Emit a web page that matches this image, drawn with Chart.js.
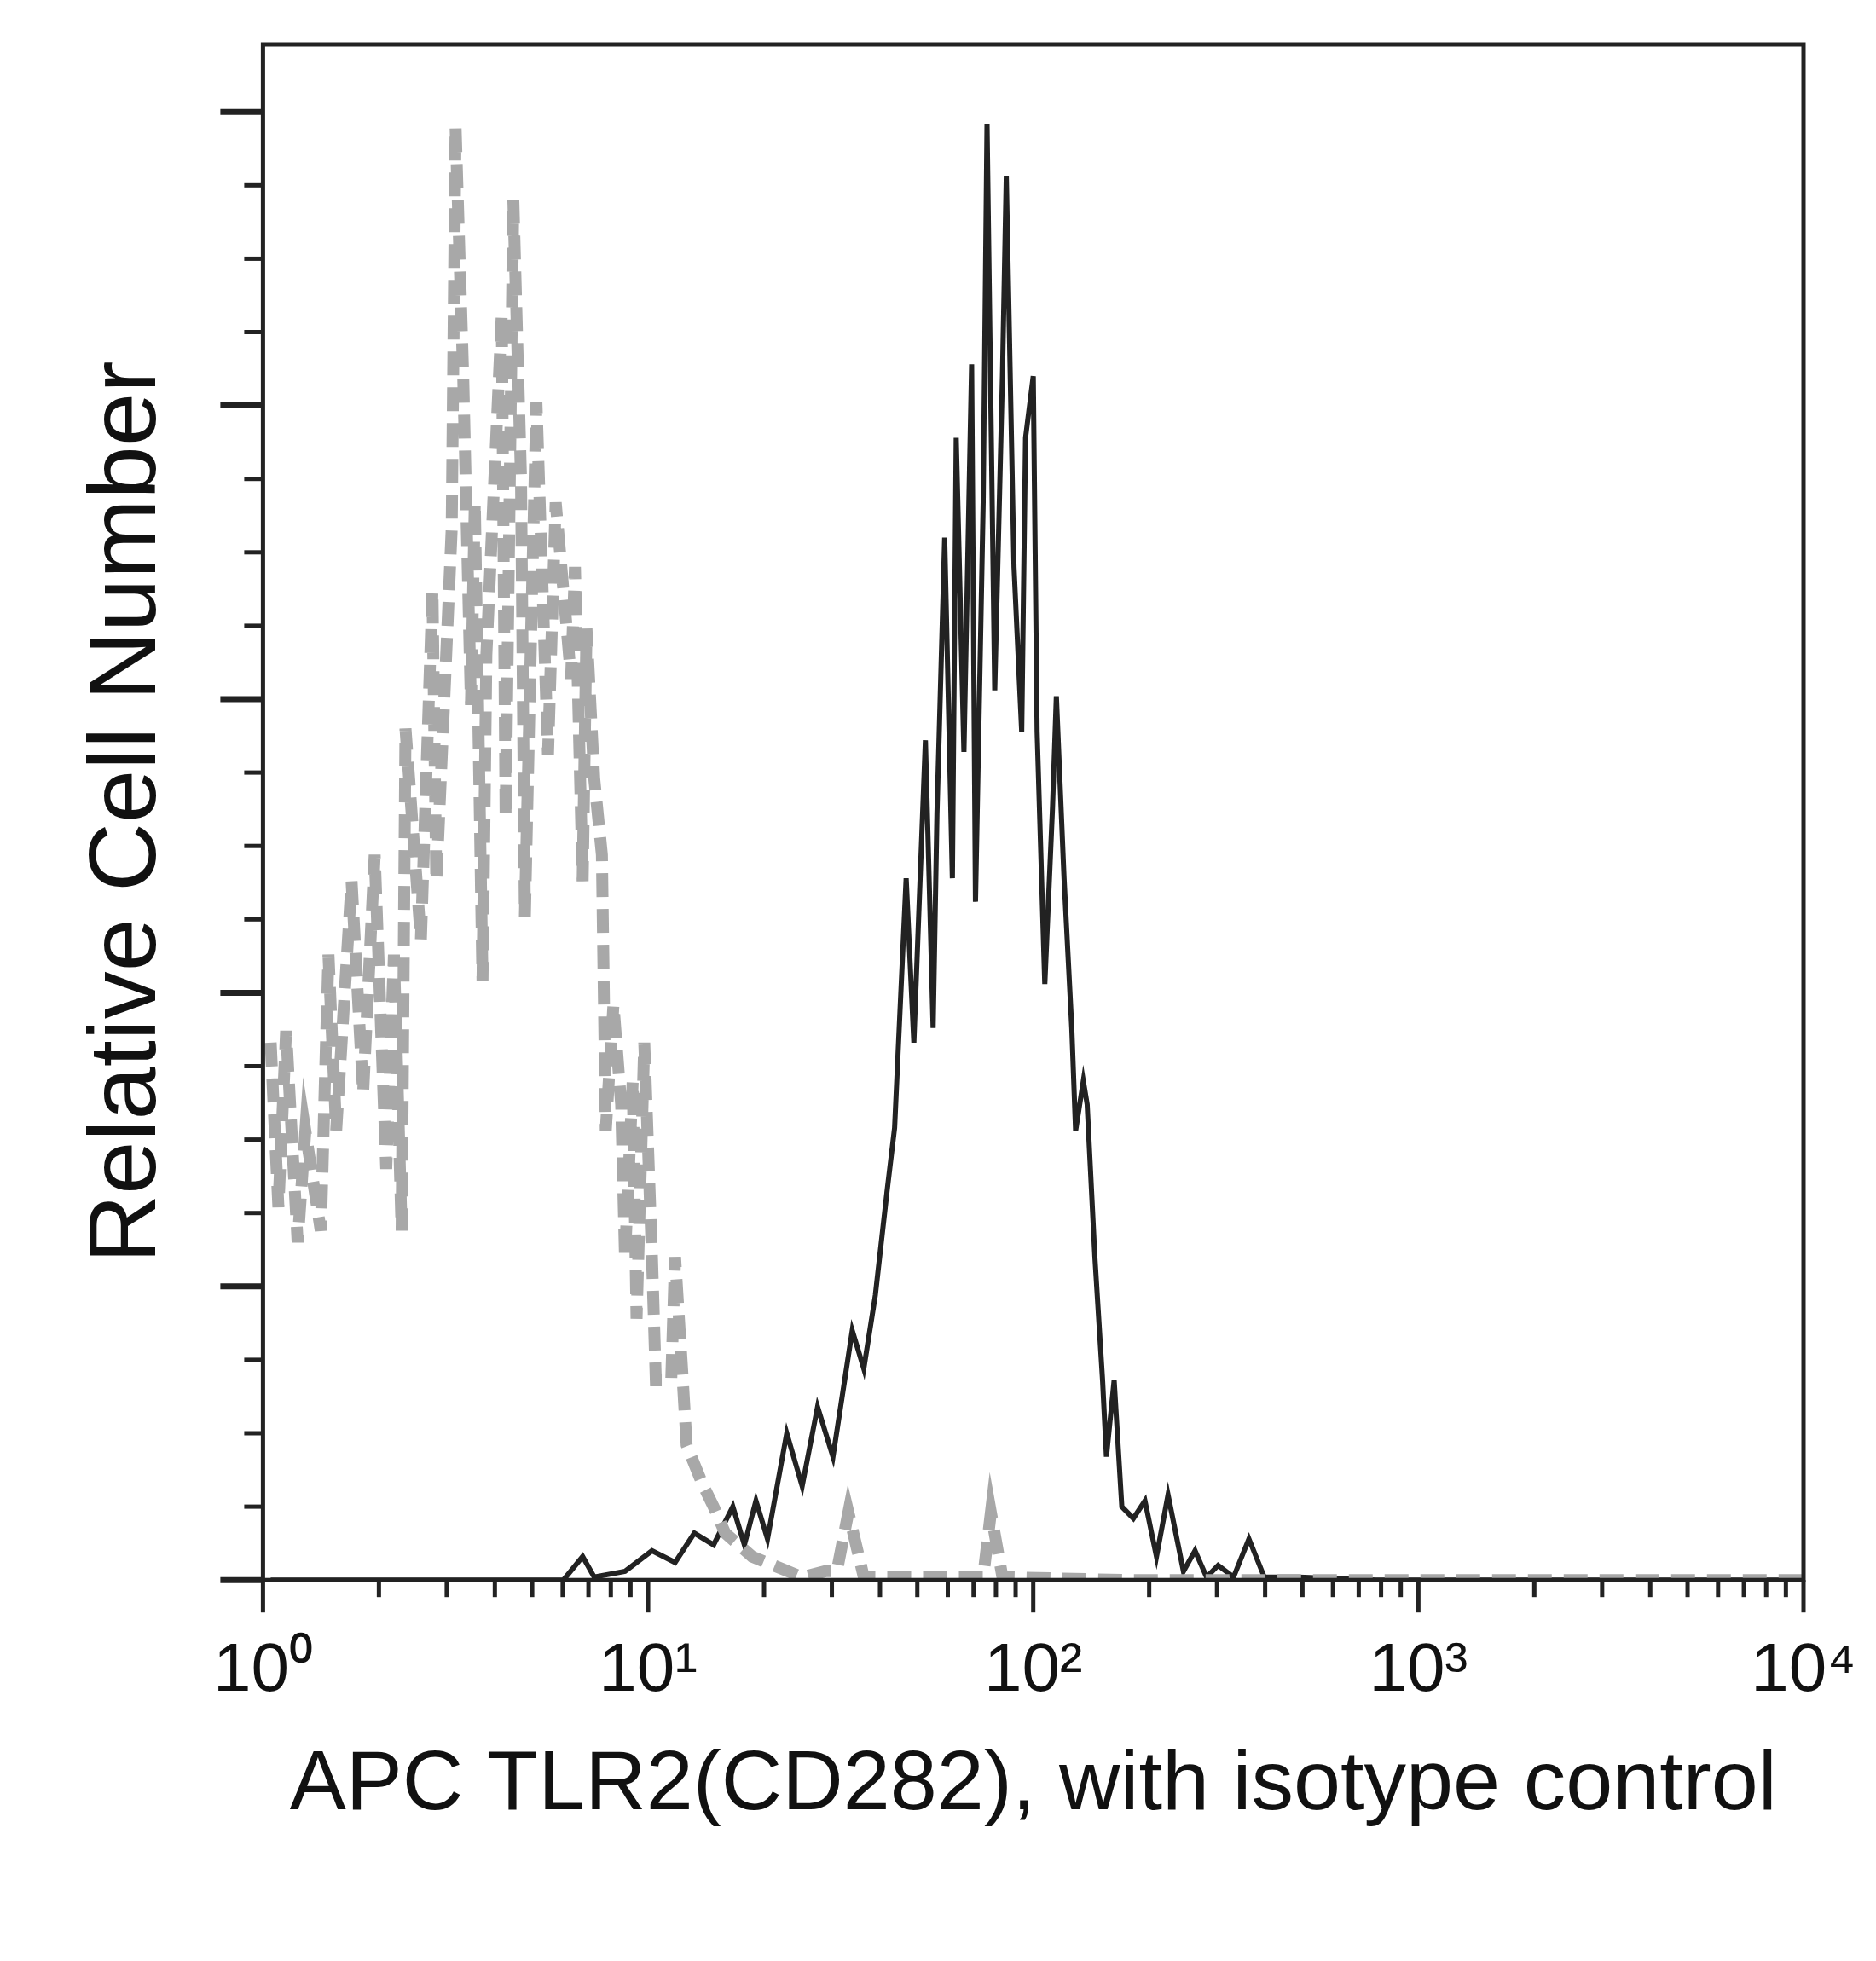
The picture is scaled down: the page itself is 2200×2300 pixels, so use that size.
<!DOCTYPE html>
<html><head><meta charset="utf-8">
<script src="https://cdn.jsdelivr.net/npm/chart.js@4"></script>
<style>html,body{margin:0;padding:0;background:#fff}#w{width:2200px;height:2300px}</style>
</head><body><div id="w"><canvas id="c" width="2200" height="2300"></canvas></div>
<script>
// x values are log10(intensity)
const isoX=[0.02,0.04,0.06,0.09,0.11,0.15,0.17,0.19,0.23,0.26,0.29,0.32,0.34,0.36,0.37,0.41,0.44,0.45,0.49,0.50,0.52,0.54,0.55,0.57,0.58,0.62,0.63,0.65,0.67,0.68,0.70,0.71,0.74,0.76,0.80,0.81,0.83,0.84,0.86,0.88,0.89,0.91,0.93,0.94,0.96,0.97,0.99,1.01,1.02,1.06,1.07,1.09,1.10,1.14,1.17,1.20,1.27,1.40,1.46,1.49,1.52,1.56,1.79,1.87,1.89,1.92,2.24,2.56,4.0];
const isoY=[183,127,187,115,153,119,213,153,238,166,247,140,213,119,290,218,337,238,358,495,409,298,367,204,315,431,260,470,375,226,345,401,281,367,307,345,238,324,273,247,153,196,162,110,170,89,183,110,68,68,110,68,46,33,25,16,8,1,3,3,23,1,1,1,23,1,0,0,0];
const tlrX=[0.02,0.78,0.83,0.86,0.94,1.01,1.07,1.12,1.17,1.22,1.25,1.28,1.31,1.36,1.40,1.44,1.48,1.53,1.56,1.59,1.62,1.64,1.67,1.69,1.72,1.74,1.75,1.77,1.79,1.80,1.82,1.84,1.85,1.87,1.88,1.90,1.92,1.93,1.95,1.97,1.98,2.00,2.01,2.03,2.05,2.06,2.08,2.10,2.11,2.13,2.14,2.16,2.18,2.19,2.21,2.23,2.26,2.29,2.32,2.35,2.39,2.42,2.45,2.48,2.52,2.56,2.60,2.69,2.89,4.0];
const tlrY=[0,0,8,1,3,10,6,16,12,25,12,27,14,50,32,59,42,85,72,97,132,154,239,183,286,188,261,355,239,389,282,414,231,367,496,303,410,478,345,289,389,410,289,203,263,301,239,188,153,170,162,110,68,42,68,25,21,27,8,29,3,10,1,5,1,14,1,1,0,0];
const xTickLabels=['10⁰','10¹','10²','10³','10⁴'];
const yMajor=[0,100,200,300,400,500];

const tickPlugin={id:'ticks',afterDraw(ch){
  const c=ch.ctx,a=ch.chartArea,xs=ch.scales.x,ys=ch.scales.y;
  c.save();c.strokeStyle='#222';
  c.lineWidth=5;c.strokeRect(a.left,a.top,a.right-a.left,a.bottom-a.top);
  for(let d=0;d<4;d++)for(let k=1;k<10;k++){
    const px=xs.getPixelForValue(d+Math.log10(k));
    const L=k===1?38:20;
    c.beginPath();c.moveTo(px,a.bottom);c.lineTo(px,a.bottom+L);c.stroke();}
  {const px=xs.getPixelForValue(4);c.beginPath();c.moveTo(px,a.bottom);c.lineTo(px,a.bottom+38);c.stroke();}
  for(let v=0;v<=500;v+=25){
    const py=ys.getPixelForValue(v);const L=v%100===0?50:22;
    c.lineWidth=v%100===0?7:5;
    c.beginPath();c.moveTo(a.left,py);c.lineTo(a.left-L,py);c.stroke();}
  c.restore();}};

new Chart(document.getElementById('c'),{type:'scatter',
 data:{datasets:[
  {data:isoX.map((x,i)=>({x,y:isoY[i]})),showLine:true,borderColor:'#a8a8a8',borderWidth:14,borderDash:[28,14],pointRadius:0,tension:0},
  {data:tlrX.map((x,i)=>({x,y:tlrY[i]})),showLine:true,borderColor:'#222',borderWidth:6,pointRadius:0,tension:0}]},
 options:{responsive:false,animation:false,devicePixelRatio:1,
  layout:{padding:{left:80,right:85,top:52,bottom:142}},
  plugins:{legend:{display:false},tooltip:{enabled:false}},
  scales:{
   x:{type:'linear',min:0,max:4,border:{display:false},grid:{display:false,drawTicks:false},
      afterBuildTicks:s=>{s.ticks=[0,1,2,3,4].map(v=>({value:v}));},
      afterFit:s=>{s.paddingRight=0;s.paddingLeft=0;},
      ticks:{padding:60,color:'#111',font:{family:'Liberation Sans',size:80},callback:(v)=>xTickLabels[v]},
      title:{display:true,text:'APC TLR2(CD282), with isotype control',color:'#111',font:{family:'Liberation Sans',size:99},padding:{top:-34}}},
   y:{min:0,max:523,border:{display:false},grid:{display:false,drawTicks:false},
      afterBuildTicks:s=>{s.ticks=yMajor.map(v=>({value:v}));},
      ticks:{display:false},
      title:{display:true,text:'Relative Cell Number',color:'#111',font:{family:'Liberation Sans',size:112},padding:{bottom:90}}}}},
 plugins:[tickPlugin]});
</script></body></html>
